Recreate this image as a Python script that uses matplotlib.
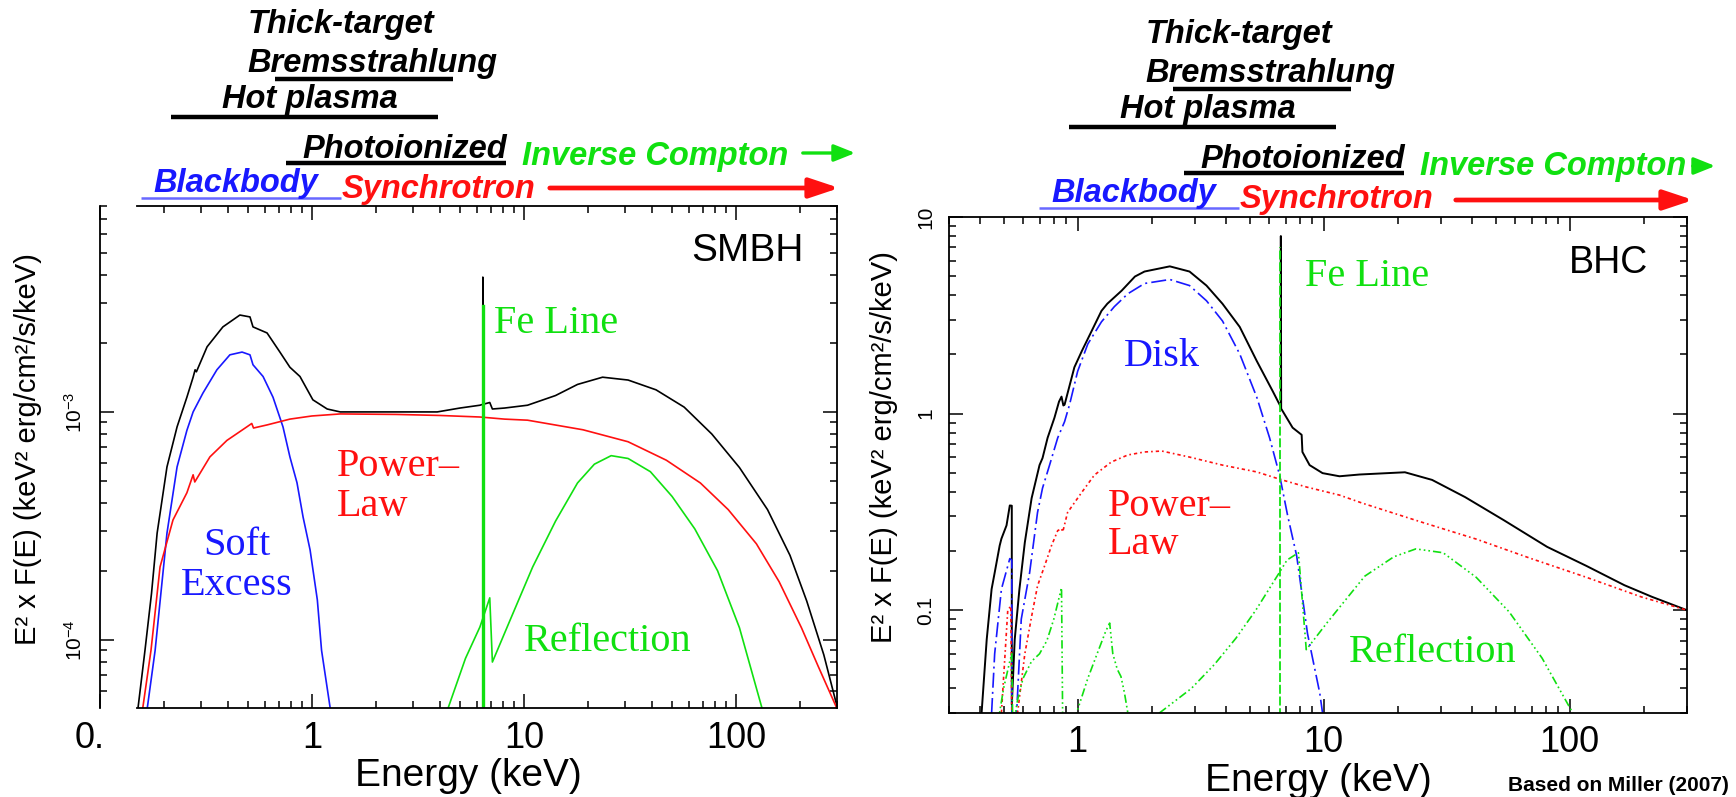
import matplotlib.pyplot as plt
from matplotlib.lines import Line2D
from matplotlib.patches import FancyArrowPatch, Rectangle
from matplotlib.ticker import NullFormatter
from matplotlib.transforms import Affine2D

plt.rcParams['font.family'] = ['Liberation Sans', 'DejaVu Sans']
plt.rcParams['mathtext.fontset'] = 'custom'
plt.rcParams['mathtext.rm'] = 'Liberation Sans'
plt.rcParams['mathtext.it'] = 'Liberation Sans:italic'

# ---- SMBH spectrum (energy in keV, E^2 F(E) in keV^2 erg/cm^2/s/keV) ----
smbh_tot_e = [0.151, 0.163, 0.175, 0.186, 0.207, 0.231, 0.257, 0.275, 0.281, 0.285,
              0.32, 0.38, 0.457, 0.51, 0.527, 0.614, 0.706, 0.787, 0.878, 1.01,
              1.18, 1.36, 2.5, 3.9, 4.99, 6.2, 6.4, 6.4, 6.42, 6.9, 7.1, 8.1,
              10.4, 14.1, 17.9, 23.5, 31, 42, 57, 77, 104, 141, 180, 216, 260, 302]
smbh_tot_f = [5e-5, 9e-5, 1.6e-4, 2.94e-4, 5.74e-4, 8.6e-4, 1.16e-3, 1.42e-3, 1.53e-3, 1.5e-3,
              1.93e-3, 2.36e-3, 2.66e-3, 2.61e-3, 2.36e-3, 2.22e-3, 1.83e-3, 1.57e-3, 1.43e-3, 1.13e-3,
              1.03e-3, 1.0e-3, 1.0e-3, 1.0e-3, 1.04e-3, 1.07e-3, 1.08e-3, 3.9e-3, 1.08e-3, 1.1e-3, 1.03e-3, 1.04e-3,
              1.07e-3, 1.18e-3, 1.32e-3, 1.42e-3, 1.38e-3, 1.25e-3, 1.05e-3, 8.0e-4, 5.7e-4, 3.73e-4, 2.35e-4,
              1.48e-4, 8.6e-5, 5e-5]

smbh_soft_e = [0.167, 0.182, 0.207, 0.231, 0.257, 0.275, 0.306, 0.356, 0.41, 0.468, 0.51,
               0.527, 0.588, 0.655, 0.73, 0.787, 0.85, 0.908, 0.98, 1.06, 1.11, 1.22]
smbh_soft_f = [5e-5, 9e-5, 2.94e-4, 5.74e-4, 8.3e-4, 1.0e-3, 1.21e-3, 1.53e-3, 1.78e-3, 1.83e-3, 1.78e-3,
               1.61e-3, 1.43e-3, 1.16e-3, 8.6e-4, 6.35e-4, 4.89e-4, 3.46e-4, 2.48e-4, 1.5e-4, 9e-5, 5e-5]

smbh_pl_e = [0.159, 0.174, 0.192, 0.221, 0.257, 0.275, 0.28, 0.33, 0.397, 0.493, 0.52, 0.53,
             0.614, 0.787, 1.0, 1.36, 2.5, 4.0, 6.2, 8.1, 10.4, 19, 31, 47, 68, 92, 125, 160,
             204, 244, 300]
smbh_pl_f = [5e-5, 9e-5, 2.09e-4, 3.36e-4, 4.42e-4, 5.3e-4, 4.93e-4, 6.35e-4, 7.5e-4, 8.6e-4, 8.9e-4, 8.5e-4,
             8.77e-4, 9.3e-4, 9.6e-4, 9.8e-4, 9.75e-4, 9.65e-4, 9.5e-4, 9.3e-4, 9.2e-4, 8.35e-4, 7.4e-4,
             6.14e-4, 4.88e-4, 3.73e-4, 2.64e-4, 1.8e-4, 1.13e-4, 7.7e-5, 5e-5]

smbh_refl_e = [4.38, 5.3, 6.2, 6.9, 7.1, 8.6, 11, 14.1, 17.9, 21.5, 25.8, 31, 39.5, 50, 64, 82, 104, 133]
smbh_refl_f = [5e-5, 8.3e-5, 1.14e-4, 1.53e-4, 8.0e-5, 1.22e-4, 2.09e-4, 3.32e-4, 4.88e-4, 5.9e-4,
               6.43e-4, 6.25e-4, 5.47e-4, 4.26e-4, 3.07e-4, 2.01e-4, 1.13e-4, 5e-5]

smbh_fe_e = [6.4, 6.4]
smbh_fe_f = [4e-5, 2.9e-3]

# ---- BHC spectrum ----
bhc_tot_e = [0.407, 0.427, 0.447, 0.46, 0.482, 0.49, 0.514, 0.53, 0.54, 0.54, 0.555, 0.58, 0.61,
             0.65, 0.70, 0.72, 0.755, 0.805, 0.84, 0.86, 0.875, 0.885, 0.97, 1.04, 1.14, 1.25,
             1.32, 1.51, 1.71, 1.87, 2.37, 2.85, 3.34, 3.88, 4.56, 5.35, 6.21, 6.7, 6.7, 6.72,
             7.48, 8.14, 8.2, 8.77, 9.9, 11.6, 14, 21.4, 27.6, 37.6, 54, 81, 117, 167, 216, 300]
bhc_tot_f = [0.03, 0.071, 0.128, 0.155, 0.213, 0.231, 0.27, 0.341, 0.34, 0.033, 0.071, 0.128, 0.221,
             0.371, 0.547, 0.594, 0.753, 0.953, 1.15, 1.22, 1.10, 1.11, 1.72, 2.08, 2.63, 3.33,
             3.62, 4.22, 4.98, 5.28, 5.61, 5.28, 4.48, 3.62, 2.76, 1.85, 1.30, 1.08, 8.0, 1.06,
             0.848, 0.78, 0.638, 0.547, 0.498, 0.48, 0.49, 0.503, 0.46, 0.376, 0.287, 0.21, 0.168,
             0.134, 0.117, 0.1]

bhc_disk_e = [0.447, 0.46, 0.49, 0.53, 0.54, 0.54, 0.565, 0.59, 0.638, 0.687, 0.72, 0.769, 0.83,
              0.885, 0.927, 1.0, 1.1, 1.25, 1.41, 1.6, 1.87, 2.37, 2.85, 3.34, 3.88, 4.56, 5.35,
              6.03, 6.62, 7.14, 7.77, 8.22, 8.6, 8.94, 9.64, 9.9]
bhc_disk_f = [0.03, 0.06, 0.128, 0.183, 0.18, 0.03, 0.03, 0.09, 0.155, 0.314, 0.418, 0.547, 0.753,
              0.91, 1.11, 1.64, 2.26, 2.93, 3.5, 4.07, 4.59, 4.81, 4.48, 3.75, 2.96, 2.01, 1.21,
              0.753, 0.487, 0.303, 0.189, 0.114, 0.076, 0.06, 0.038, 0.03]

bhc_pl_e = [0.49, 0.52, 0.535, 0.54, 0.57, 0.61, 0.65, 0.687, 0.734, 0.783, 0.83, 0.86, 0.87,
            0.91, 1.04, 1.17, 1.37, 1.6, 1.87, 2.2, 2.85, 3.88, 5.35, 6.62, 8.53, 11.6, 14.4,
            24.9, 41.7, 69.8, 117, 195, 300]
bhc_pl_f = [0.03, 0.10, 0.105, 0.03, 0.03, 0.06, 0.093, 0.133, 0.168, 0.213, 0.254, 0.26, 0.25,
            0.314, 0.398, 0.487, 0.567, 0.616, 0.638, 0.645, 0.601, 0.547, 0.505, 0.464, 0.423,
            0.385, 0.35, 0.281, 0.23, 0.183, 0.147, 0.117, 0.1]

bhc_refl_e = [0.47, 0.50, 0.53, 0.54, 0.545, 0.57, 0.6, 0.65, 0.70, 0.75, 0.80, 0.86, 0.87,
              0.99, 1.1, 1.2, 1.3, 1.35, 1.39, 1.45, 1.5, 1.55, 1.6, 1.65, 2.1, 2.15, 2.9, 3.6,
              4.4, 5.3, 6.6, 7.1, 7.9, 8.5, 10.3, 14.7, 19.3, 23.7, 30.6, 41.7, 56.8, 77.3, 103, 110]
bhc_refl_f = [0.025, 0.04, 0.055, 0.06, 0.025, 0.035, 0.045, 0.055, 0.06, 0.07, 0.09, 0.13, 0.025,
              0.03, 0.045, 0.06, 0.078, 0.086, 0.06, 0.05, 0.046, 0.038, 0.03, 0.025, 0.025, 0.03,
              0.04, 0.053, 0.072, 0.1, 0.155, 0.18, 0.196, 0.063, 0.086, 0.149, 0.187, 0.205,
              0.196, 0.147, 0.098, 0.057, 0.03, 0.025]

bhc_fe_e = [6.62, 6.62]
bhc_fe_f = [0.025, 7.0]

GREEN = '#10e010'
BLUE = '#1818ff'
RED = '#ff1010'

W, H = 1736, 797
fig = plt.figure(figsize=(W / 100, H / 100), dpi=100)
# pixel coordinates measured from the top-left corner
pix = Affine2D().scale(1 / W, -1 / H).translate(0, 1) + fig.transFigure

ax1 = fig.add_axes([100 / W, 1 - 708 / H, 737 / W, 502 / H])
ax2 = fig.add_axes([949 / W, 1 - 713 / H, 738 / W, 496 / H])

# left panel: solid curves
ax1.plot(smbh_tot_e, smbh_tot_f, color='black', lw=1.2)
ax1.plot(smbh_soft_e, smbh_soft_f, color=BLUE, lw=1.2)
ax1.plot(smbh_pl_e, smbh_pl_f, color=RED, lw=1.2)
ax1.plot(smbh_refl_e, smbh_refl_f, color=GREEN, lw=1.2)
ax1.plot(smbh_fe_e, smbh_fe_f, color=GREEN, lw=2.4)
ax1.set_xlim(0.1, 300)
ax1.set_ylim(5.03e-5, 8.0e-3)

# right panel: broken-line components
ax2.plot(bhc_tot_e, bhc_tot_f, color='black', lw=1.4)
ax2.plot(bhc_disk_e, bhc_disk_f, color=BLUE, lw=1.2, ls=(0, (9, 2.5, 1.2, 2.5)))
ax2.plot(bhc_pl_e, bhc_pl_f, color=RED, lw=1.2, ls=(0, (2, 1.8, 1, 1.8)))
ax2.plot(bhc_refl_e, bhc_refl_f, color=GREEN, lw=1.2, ls=(0, (5, 1.8, 1, 1.8, 1, 1.8, 1, 1.8)))
ax2.plot(bhc_fe_e, bhc_fe_f, color=GREEN, lw=1.3, ls=(0, (5, 1.5)))
ax2.set_xlim(0.3, 300)
ax2.set_ylim(0.03, 10)

for ax in (ax1, ax2):
    ax.set_xscale('log')
    ax.set_yscale('log')
    for sp in ax.spines.values():
        sp.set_linewidth(1.3)
    ax.tick_params(which='both', direction='in', top=True, right=True, width=1.1)
    ax.tick_params(which='major', length=10)
    ax.tick_params(which='minor', length=5)
    ax.tick_params(axis='x', labelsize=26, pad=9)
    ax.tick_params(axis='y', labelsize=15, labelrotation=90, pad=10)
    ax.xaxis.set_minor_formatter(NullFormatter())
    ax.yaxis.set_minor_formatter(NullFormatter())
    ax.set_xlabel('Energy (keV)', fontsize=28, labelpad=2)

ax1.set_xticks([0.1, 1, 10, 100])
ax1.set_xticklabels(['0.1', '1', '10', '100'])
ax1.set_yticks([1e-4, 1e-3])
ax1.set_yticklabels([r'$10^{-4}$', r'$10^{-3}$'])
ax2.set_xticks([1, 10, 100])
ax2.set_xticklabels(['1', '10', '100'])
ax2.set_yticks([0.1, 1, 10])
ax2.set_yticklabels(['0.1', '1', '10'])
for ax in (ax1, ax2):
    for lbl in ax.get_yticklabels():
        lbl.set_va('center')

ylab = 'E\u00b2 x F(E) (keV\u00b2 erg/cm\u00b2/s/keV)'
ax1.set_ylabel(ylab, fontsize=21)
ax1.yaxis.set_label_coords(-0.079, 0.516)
ax2.set_ylabel(ylab, fontsize=21)
ax2.yaxis.set_label_coords(-0.069, 0.536)

# the SMBH frame starts a little right of its left axis
ax1.spines['top'].set_bounds(0.15, 300)
ax1.spines['bottom'].set_bounds(0.15, 300)
fig.add_artist(Rectangle((104, 760), 30, -48, transform=pix, color='white', zorder=10))

serif = dict(family=['Liberation Serif', 'DejaVu Serif'], fontsize=29, va='baseline')
t1 = ax1.transAxes
ax1.text(0.955, 0.890, 'SMBH', transform=t1, fontsize=28, ha='right', va='baseline')
ax1.text(0.535, 0.747, 'Fe Line', transform=t1, color=GREEN, **serif)
ax1.text(0.322, 0.462, 'Power\u2013', transform=t1, color=RED, **serif)
ax1.text(0.322, 0.382, 'Law', transform=t1, color=RED, **serif)
ax1.text(0.186, 0.305, 'Soft', transform=t1, color=BLUE, ha='center', **serif)
ax1.text(0.186, 0.225, 'Excess', transform=t1, color=BLUE, ha='center', **serif)
ax1.text(0.575, 0.114, 'Reflection', transform=t1, color=GREEN, **serif)

t2 = ax2.transAxes
ax2.text(0.948, 0.887, 'BHC', transform=t2, fontsize=27, ha='right', va='baseline')
ax2.text(0.482, 0.861, 'Fe Line', transform=t2, color=GREEN, **serif)
ax2.text(0.237, 0.700, 'Disk', transform=t2, color=BLUE, **serif)
ax2.text(0.215, 0.397, 'Power\u2013', transform=t2, color=RED, **serif)
ax2.text(0.215, 0.321, 'Law', transform=t2, color=RED, **serif)
ax2.text(0.542, 0.103, 'Reflection', transform=t2, color=GREEN, **serif)

# emission-process bands above each panel
band_labels = [('Thick-target', 248, 33, 'black'), ('Bremsstrahlung', 247, 72, 'black'),
               ('Hot plasma', 222, 108, 'black'), ('Photoionized', 302, 158, 'black'),
               ('Inverse Compton', 522, 165, GREEN), ('Blackbody', 153, 192, BLUE),
               ('Synchrotron', 342, 198, RED)]
band_bars = [(275, 453, 79, 'black', 3.2), (171, 438, 117, 'black', 3.2),
             (286, 506, 163, 'black', 3.2), (141, 341, 198, '#6868ff', 1.8)]
panel_shift = [(0, 0), (898, 10)]
sync_arrows = [(547, 842, 188), (1453, 1696, 200)]
ic_arrows = [(800, 858, 153), (1690, 1718, 166)]

for (dx, dy), sa, ia in zip(panel_shift, sync_arrows, ic_arrows):
    for s, x, y, c in band_labels:
        fig.text(x + dx, y + dy, s, transform=pix, color=c, fontsize=23.5,
                 fontweight='bold', fontstyle='italic', va='baseline')
    for x0, x1, y, c, lw in band_bars:
        fig.add_artist(Line2D([x0 + dx, x1 + dx], [y + dy, y + dy], transform=pix,
                              color=c, lw=lw, solid_capstyle='butt'))
    fig.add_artist(FancyArrowPatch((sa[0], sa[2]), (sa[1], sa[2]), transform=pix,
                                   arrowstyle='-|>,head_length=0.9,head_width=0.3',
                                   mutation_scale=20, lw=3.4, color=RED))
    fig.add_artist(FancyArrowPatch((ia[0], ia[2]), (ia[1], ia[2]), transform=pix,
                                   arrowstyle='-|>,head_length=0.8,head_width=0.32',
                                   mutation_scale=16, lw=2.4, color=GREEN))

fig.text(1508, 791, 'Based on Miller (2007)', transform=pix, fontsize=15,
         fontweight='bold', va='baseline')

fig.savefig('out.png', dpi=100)
